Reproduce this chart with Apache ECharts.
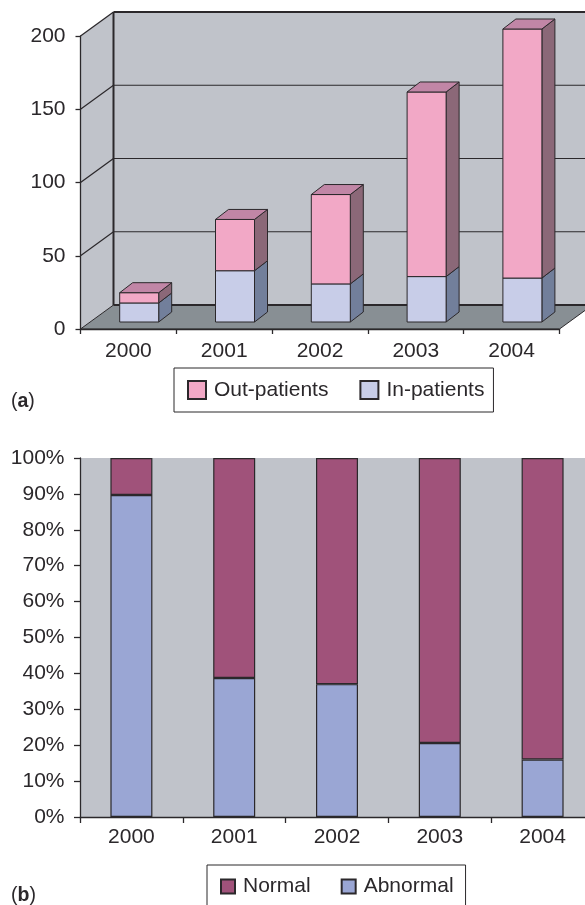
<!DOCTYPE html>
<html>
<head>
<meta charset="utf-8">
<style>
  html, body { margin: 0; padding: 0; background: #fff; overflow: hidden; }
  #chart { width: 585px; height: 905px; }
</style>
<script src="https://cdn.jsdelivr.net/npm/echarts@6/dist/echarts.min.js"></script>
</head>
<body>
<div id="chart"></div>
<script>
const years = ['2000', '2001', '2002', '2003', '2004']
const inPatients = [13, 35, 26, 31, 30]
const outPatients = [7, 35, 61, 126, 170]
const abnormal = [89.7, 38.7, 37, 20.6, 16]
const normal = [10.3, 61.3, 63, 79.4, 84]
const wallTicks = [50, 100, 150, 200]

const FONT = '"Liberation Sans", Arial, sans-serif'
const INK = '#2b282b'
const WALL = '#c0c3ca'

// fake 3d depth, in pixels
const depthX = 33
const depthY = 24
const barDepthX = 13
const barDepthY = 10
const barFrontX = 10.8
const barFrontY = 7
const barWidth = 39

const poly = (points, fill, lineWidth = 1) => ({
  type: 'polygon',
  shape: { points },
  style: { fill, stroke: INK, lineWidth }
})

const line = (x1, y1, x2, y2, lineWidth) => ({
  type: 'line',
  shape: { x1, y1, x2, y2 },
  style: { stroke: INK, lineWidth }
})

const renderWalls = (params, api) => {
  const rect = params.coordSys
  const x0 = rect.x
  const x1 = rect.x + rect.width
  const y0 = api.coord([0, 0])[1]
  const yTop = api.coord([0, 200])[1]
  const children = [
    { type: 'polygon', shape: { points: [[x0, y0], [x0, yTop], [x0 + depthX, yTop - depthY], [x0 + depthX, y0 - depthY]] }, style: { fill: WALL } },
    { type: 'rect', shape: { x: x0 + depthX, y: yTop - depthY, width: rect.width, height: y0 - yTop }, style: { fill: WALL } },
    poly([[x0, y0], [x1, y0], [x1 + depthX, y0 - depthY], [x0 + depthX, y0 - depthY]], '#888f94')
  ]
  wallTicks.forEach(v => {
    const y = api.coord([0, v])[1]
    children.push(line(x0, y, x0 + depthX, y - depthY, 1.2))
    if (v < 200) children.push(line(x0 + depthX, y - depthY, x1 + depthX, y - depthY, 1.2))
  })
  children.push(line(x0 + depthX, yTop - depthY, x1 + depthX, yTop - depthY, 2))
  children.push(line(x0 + depthX, yTop - depthY, x0 + depthX, y0 - depthY, 2))
  children.push(line(x0 + depthX, y0 - depthY, x1 + depthX, y0 - depthY, 2))
  return { type: 'group', children }
}

const makeBar = (front, side, top) => (params, api) => {
  const base = api.coord([api.value(0), api.value(1)])
  const end = api.coord([api.value(0), api.value(2)])
  const l = base[0] + barFrontX - barWidth / 2
  const r = l + barWidth
  const b = base[1] - barFrontY
  const t = end[1] - barFrontY
  const children = [
    poly([[r, b], [r + barDepthX, b - barDepthY], [r + barDepthX, t - barDepthY], [r, t]], side),
    poly([[l, b], [r, b], [r, t], [l, t]], front)
  ]
  if (top) {
    children.push(poly([[l, t], [r, t], [r + barDepthX, t - barDepthY], [l + barDepthX, t - barDepthY]], top))
  }
  return { type: 'group', children }
}

const inData = years.map((y, i) => [i, 0, inPatients[i]])
const outData = years.map((y, i) => [i, inPatients[i], inPatients[i] + outPatients[i]])

const axisText = { color: INK, fontFamily: FONT, fontSize: 21 }
const axisStroke = { show: true, lineStyle: { color: INK, width: 1.3 } }
const tickStyle = { color: INK, width: 1.3 }
const legendBase = {
  orient: 'horizontal',
  icon: 'rect',
  backgroundColor: '#fff',
  borderColor: INK,
  borderWidth: 1,
  textStyle: { color: INK, fontFamily: FONT, fontSize: 21, padding: [0, 0, 0, 3] },
  selectedMode: false
}
const panelLabel = { color: INK, fontFamily: FONT, fontSize: 19.5, fontWeight: 'normal', rich: { b: { fontFamily: FONT, fontSize: 19.5, fontWeight: 'bold', color: INK } } }

const chart = echarts.init(document.getElementById('chart'), null, { renderer: 'canvas' })
chart.setOption({
  animation: false,
  backgroundColor: '#fff',
  title: [
    { text: '({b|a})', left: 11, top: 392, textStyle: panelLabel, padding: 0 },
    { text: '({b|b})', left: 11, top: 886, textStyle: panelLabel, padding: 0 }
  ],
  legend: [
    { ...legendBase, data: ['Out-patients', 'In-patients'], left: 174, top: 368, padding: [11.5, 9, 11.5, 13], itemGap: 31, itemWidth: 18, itemHeight: 18 },
    { ...legendBase, data: ['Normal', 'Abnormal'], left: 207, top: 865, padding: [11, 12, 30, 13], itemGap: 30, itemWidth: 14, itemHeight: 14 }
  ],
  grid: [
    { left: 80.5, top: 36, width: 479, height: 293, outerBoundsMode: 'none' },
    { left: 80, top: 458, width: 514, height: 359, outerBoundsMode: 'none', show: true, backgroundColor: WALL, borderWidth: 0 }
  ],
  xAxis: [
    { type: 'category', gridIndex: 0, data: years, z: 5, axisLine: axisStroke, axisTick: { show: true, length: 5, lineStyle: tickStyle }, axisLabel: { ...axisText, margin: 12 } },
    { type: 'category', gridIndex: 1, data: years, z: 5, axisLine: axisStroke, axisTick: { show: true, length: 6, lineStyle: tickStyle }, axisLabel: { ...axisText, margin: 10 } }
  ],
  yAxis: [
    { type: 'value', gridIndex: 0, min: 0, max: 200, interval: 50, z: 5, axisLine: axisStroke, axisTick: { show: true, length: 5, lineStyle: tickStyle }, axisLabel: { ...axisText, margin: 15 }, splitLine: { show: false } },
    { type: 'value', gridIndex: 1, min: 0, max: 100, interval: 10, z: 5, axisLine: axisStroke, axisTick: { show: true, length: 6, lineStyle: tickStyle }, axisLabel: { ...axisText, margin: 15.5, formatter: '{value}%' }, splitLine: { show: false } }
  ],
  series: [
    { name: 'walls', type: 'custom', xAxisIndex: 0, yAxisIndex: 0, z: 1, silent: true, data: [[0, 0]], renderItem: renderWalls },
    { name: 'In-patients', type: 'custom', xAxisIndex: 0, yAxisIndex: 0, z: 2, encode: { x: 0, y: 2 }, itemStyle: { color: '#c8cde8', borderColor: INK, borderWidth: 1 }, data: inData, renderItem: makeBar('#c8cde8', '#727f9b') },
    { name: 'Out-patients', type: 'custom', xAxisIndex: 0, yAxisIndex: 0, z: 3, encode: { x: 0, y: 2 }, itemStyle: { color: '#f2a8c6', borderColor: INK, borderWidth: 1 }, data: outData, renderItem: makeBar('#f2a8c6', '#8b6878', '#c186a6') },
    { name: 'Abnormal', type: 'bar', xAxisIndex: 1, yAxisIndex: 1, stack: 'share', barWidth: 42, itemStyle: { color: '#9aa6d4', borderColor: INK, borderWidth: 1.2 }, data: abnormal },
    { name: 'Normal', type: 'bar', xAxisIndex: 1, yAxisIndex: 1, stack: 'share', barWidth: 42, itemStyle: { color: '#a0527a', borderColor: INK, borderWidth: 1.2 }, data: normal }
  ]
})
</script>
</body>
</html>
